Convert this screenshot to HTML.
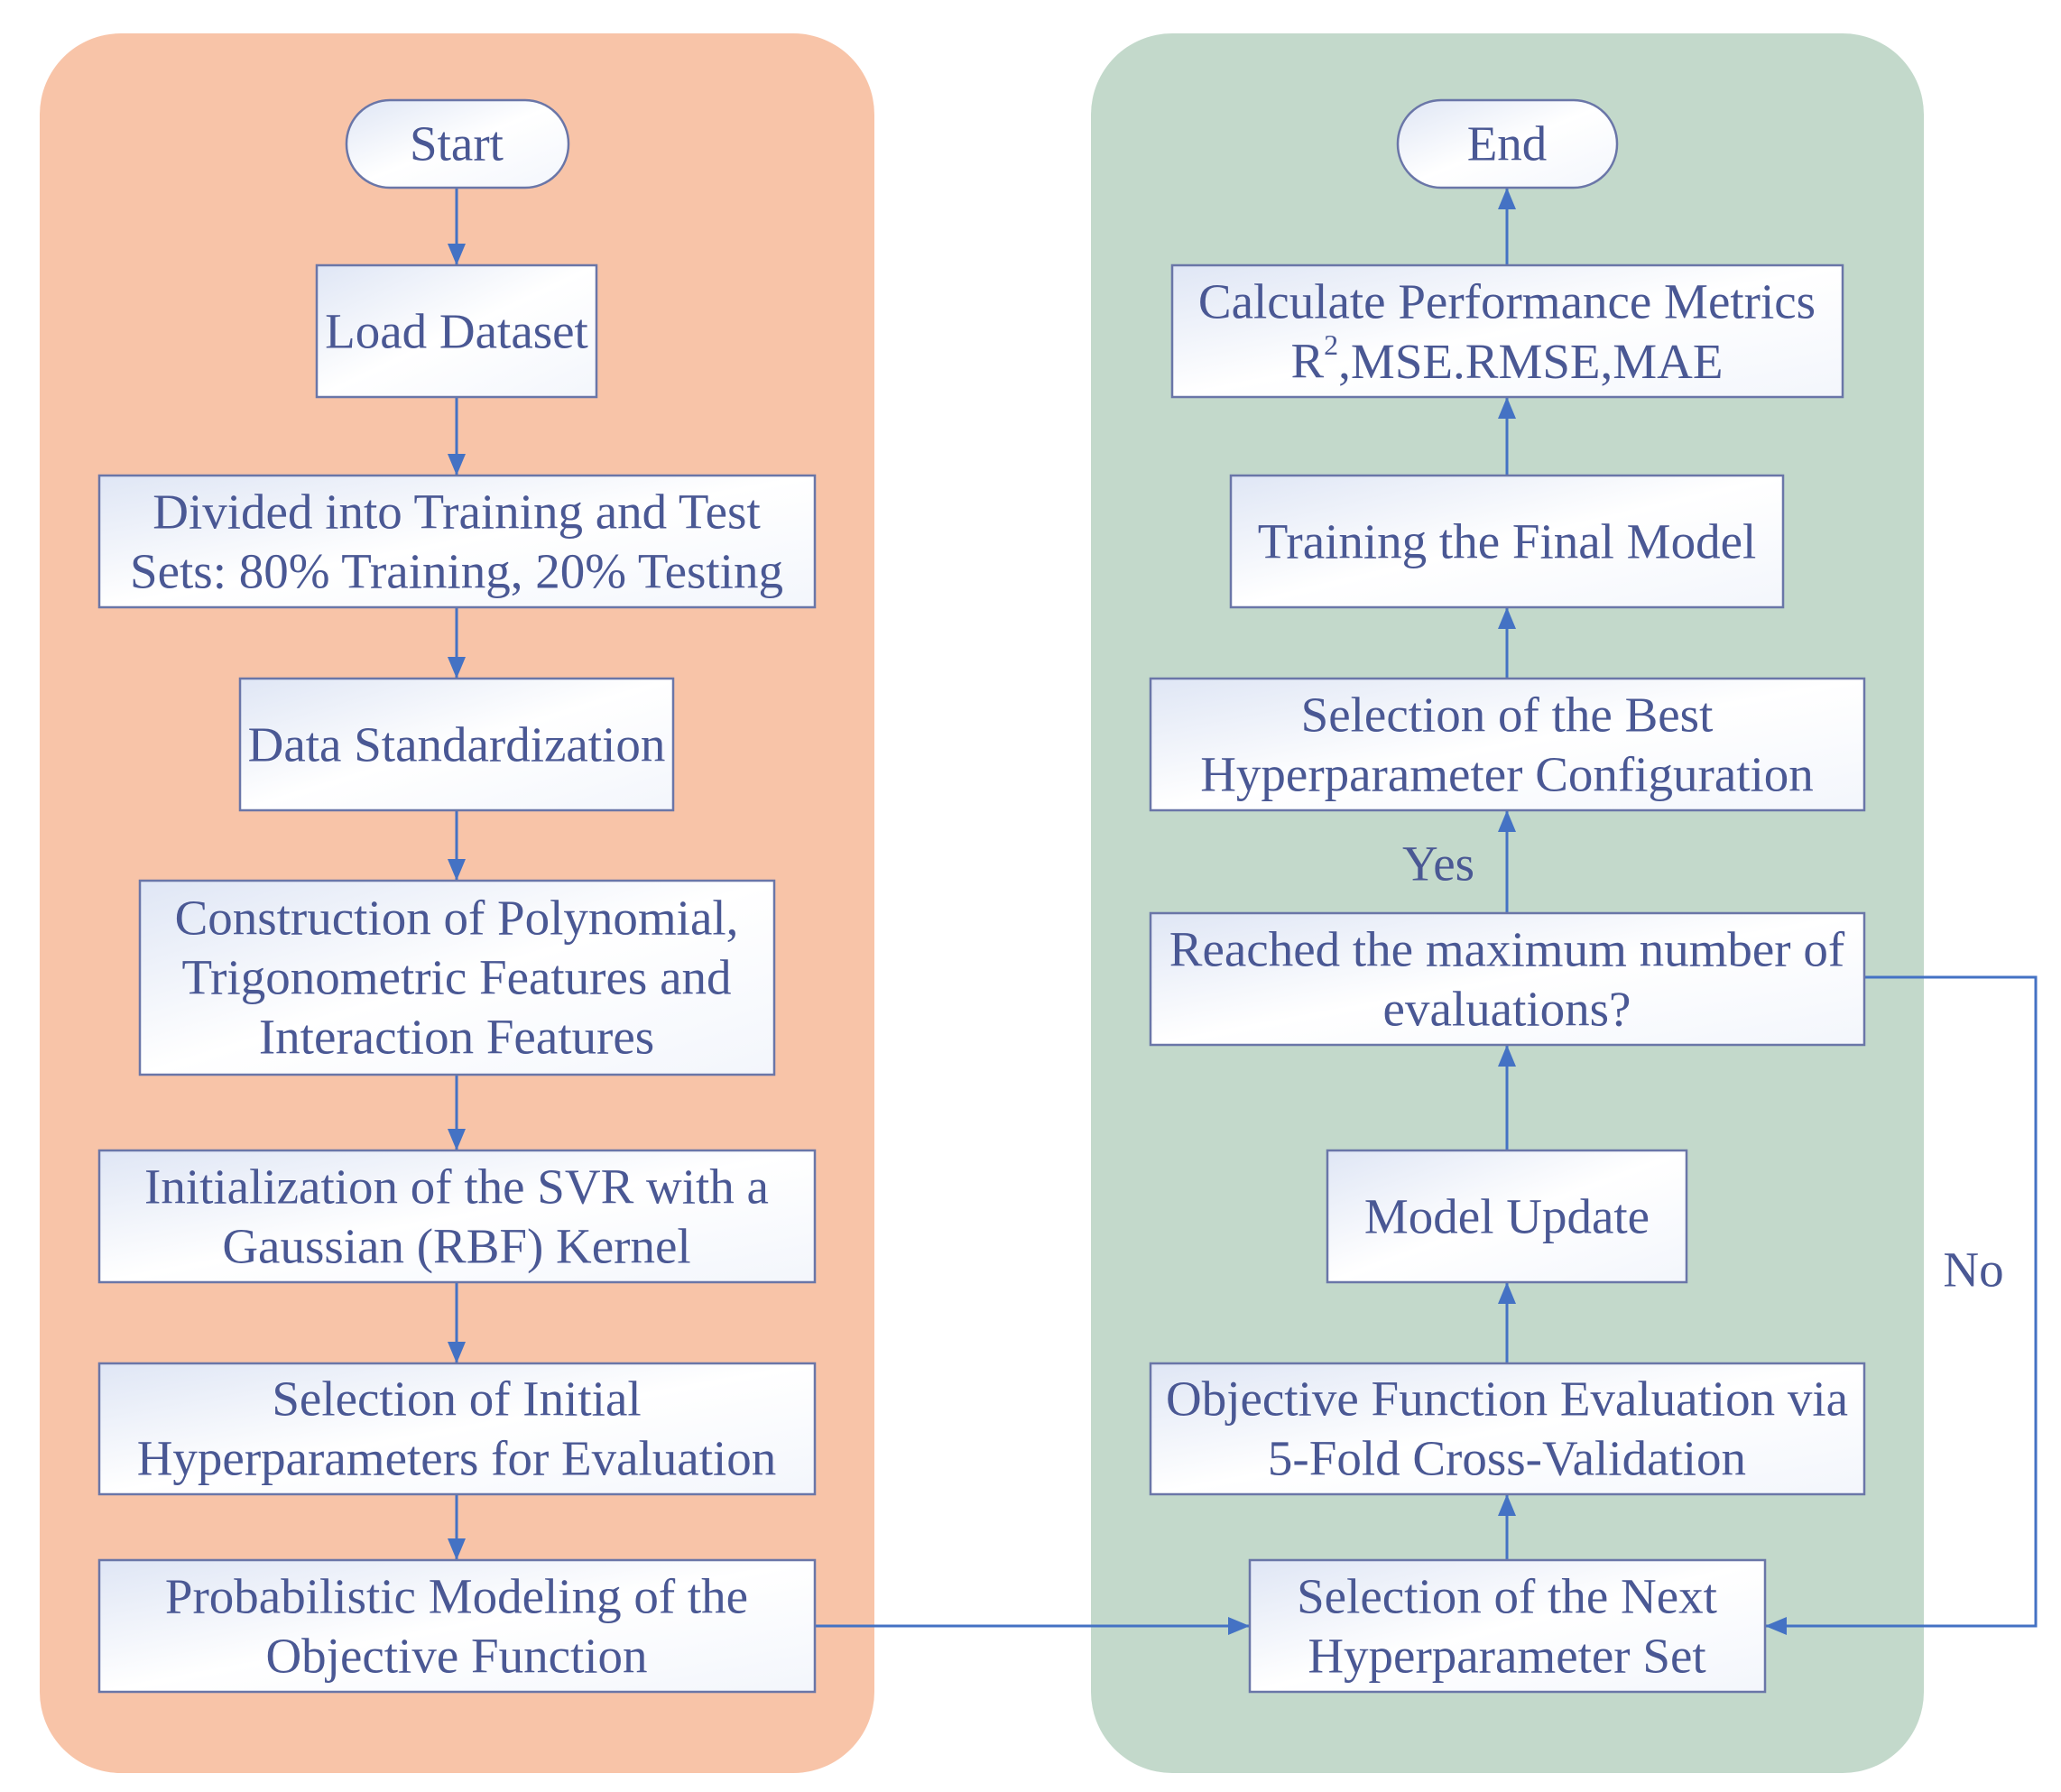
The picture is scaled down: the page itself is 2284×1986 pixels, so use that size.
<!DOCTYPE html>
<html><head><meta charset="utf-8"><style>
html,body{margin:0;padding:0;background:#fff;}
svg{display:block}
text{font-family:"Liberation Serif",serif;font-size:55px;fill:#4a5894;text-anchor:middle;dominant-baseline:central}
</style></head><body>
<svg width="2284" height="1986" viewBox="0 0 2284 1986" xmlns="http://www.w3.org/2000/svg">
<defs>
<linearGradient id="g" x1="0" y1="0" x2="1" y2="1">
<stop offset="0" stop-color="#dfe6f5"/><stop offset="0.5" stop-color="#ffffff"/><stop offset="1" stop-color="#f3f6fc"/>
</linearGradient>
</defs>
<rect x="44" y="37" width="925" height="1928" rx="90" fill="#f8c4a8"/>
<rect x="1209" y="37" width="923" height="1928" rx="90" fill="#c3d9cb"/>

<g stroke="#4472c4" stroke-width="3" fill="none">
<line x1="506" y1="208" x2="506" y2="294"/>
<line x1="506" y1="440" x2="506" y2="527"/>
<line x1="506" y1="673" x2="506" y2="752"/>
<line x1="506" y1="898" x2="506" y2="976"/>
<line x1="506" y1="1191" x2="506" y2="1275"/>
<line x1="506" y1="1421" x2="506" y2="1511"/>
<line x1="506" y1="1656" x2="506" y2="1729"/>
<line x1="903" y1="1802" x2="1385" y2="1802"/>
<line x1="1670" y1="1729" x2="1670" y2="1656"/>
<line x1="1670" y1="1511" x2="1670" y2="1421"/>
<line x1="1670" y1="1275" x2="1670" y2="1158"/>
<line x1="1670" y1="1012" x2="1670" y2="898"/>
<line x1="1670" y1="752" x2="1670" y2="673"/>
<line x1="1670" y1="527" x2="1670" y2="440"/>
<line x1="1670" y1="294" x2="1670" y2="208"/>
<polyline points="2066,1083 2256,1083 2256,1802 1956,1802"/>
</g>
<g fill="#4472c4">
<polygon points="496,270 516,270 506,294"/>
<polygon points="496,503 516,503 506,527"/>
<polygon points="496,728 516,728 506,752"/>
<polygon points="496,952 516,952 506,976"/>
<polygon points="496,1251 516,1251 506,1275"/>
<polygon points="496,1487 516,1487 506,1511"/>
<polygon points="496,1705 516,1705 506,1729"/>
<polygon points="1361,1792 1361,1812 1385,1802"/>
<polygon points="1980,1792 1980,1812 1956,1802"/>
<polygon points="1660,1680 1680,1680 1670,1656"/>
<polygon points="1660,1445 1680,1445 1670,1421"/>
<polygon points="1660,1182 1680,1182 1670,1158"/>
<polygon points="1660,922 1680,922 1670,898"/>
<polygon points="1660,697 1680,697 1670,673"/>
<polygon points="1660,464 1680,464 1670,440"/>
<polygon points="1660,232 1680,232 1670,208"/>
</g>

<g fill="url(#g)" stroke="#6a76a8" stroke-width="2.5">
<rect x="384" y="111" width="246" height="97" rx="48"/>
<rect x="351" y="294" width="310" height="146"/>
<rect x="110" y="527" width="793" height="146"/>
<rect x="266" y="752" width="480" height="146"/>
<rect x="155" y="976" width="703" height="215"/>
<rect x="110" y="1275" width="793" height="146"/>
<rect x="110" y="1511" width="793" height="145"/>
<rect x="110" y="1729" width="793" height="146"/>
<rect x="1549" y="111" width="243" height="97" rx="48"/>
<rect x="1299" y="294" width="743" height="146"/>
<rect x="1364" y="527" width="612" height="146"/>
<rect x="1275" y="752" width="791" height="146"/>
<rect x="1275" y="1012" width="791" height="146"/>
<rect x="1471" y="1275" width="398" height="146"/>
<rect x="1275" y="1511" width="791" height="145"/>
<rect x="1385" y="1729" width="571" height="146"/>
</g>

<text x="506" y="159">Start</text>
<text x="506" y="367">Load Dataset</text>
<text x="506" y="567">Divided into Training and Test</text>
<text x="506" y="633">Sets: 80% Training, 20% Testing</text>
<text x="506" y="825">Data Standardization</text>
<text x="506" y="1017">Construction of Polynomial,</text>
<text x="506" y="1083">Trigonometric Features and</text>
<text x="506" y="1149">Interaction Features</text>
<text x="506" y="1315">Initialization of the SVR with a</text>
<text x="506" y="1381">Gaussian (RBF) Kernel</text>
<text x="506" y="1550">Selection of Initial</text>
<text x="506" y="1616">Hyperparameters for Evaluation</text>
<text x="506" y="1769">Probabilistic Modeling of the</text>
<text x="506" y="1835">Objective Function</text>

<text x="1670" y="159">End</text>
<text x="1670" y="334">Calculate Performance Metrics</text>
<text x="1670" y="400">R<tspan font-size="32" dy="-18">2</tspan><tspan dy="18">,MSE.RMSE,MAE</tspan></text>
<text x="1670" y="600">Training the Final Model</text>
<text x="1670" y="792">Selection of the Best</text>
<text x="1670" y="858">Hyperparameter Configuration</text>
<text x="1594" y="957">Yes</text>
<text x="1670" y="1052">Reached the maximum number of</text>
<text x="1670" y="1118">evaluations?</text>
<text x="1670" y="1348">Model Update</text>
<text x="1670" y="1550">Objective Function Evaluation via</text>
<text x="1670" y="1616">5-Fold Cross-Validation</text>
<text x="1670" y="1769">Selection of the Next</text>
<text x="1670" y="1835">Hyperparameter Set</text>
<text x="2187" y="1407">No</text>
</svg>
</body></html>
